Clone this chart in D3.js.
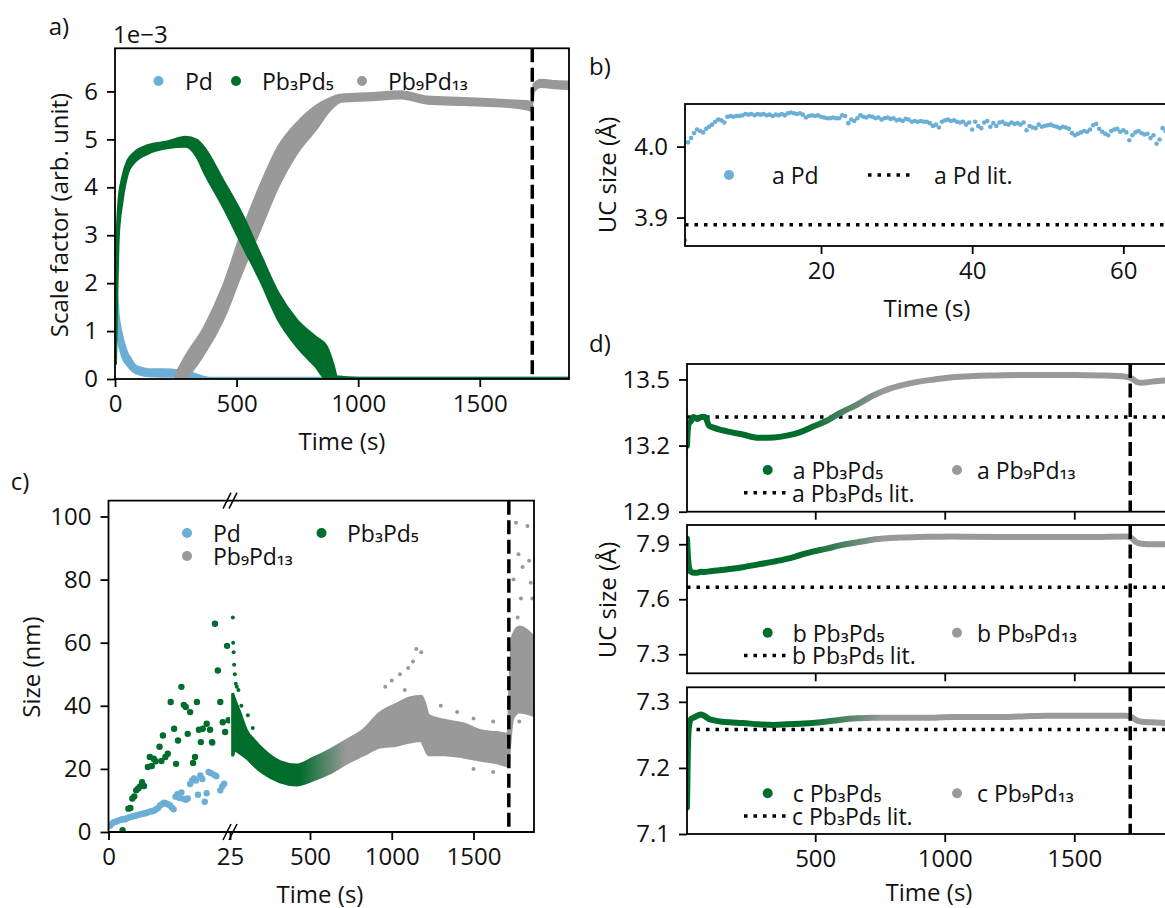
<!DOCTYPE html>
<html>
<head>
<meta charset="utf-8">
<script src="https://cdn.jsdelivr.net/npm/d3@7"></script>
<style>
  body { margin: 0; background: #fff; }
  svg { display: block; }
</style>
</head>
<body>
<svg id="fig" width="1165" height="908"></svg>
<script>
// ---- panel a: scale factor (x1e-3), dense clouds read as lower/upper envelopes
const aPdTime = [3, 8, 15, 25, 35, 50, 65, 80, 100, 140, 200, 260, 320, 360, 390, 1000, 1867];
const aPdLo   = [1.3, 1.0, 0.75, 0.55, 0.4, 0.3, 0.2, 0.14, 0.1, 0.06, 0.05, 0.05, 0.02, 0, 0, 0, 0];
const aPdHi   = [2.0, 1.75, 1.3, 1.0, 0.78, 0.55, 0.42, 0.3, 0.24, 0.2, 0.2, 0.18, 0.12, 0.05, 0.02, 0.02, 0.02];

const aP35Time = [3, 8, 15, 30, 53, 76, 137, 214, 290, 336, 368, 444, 520, 596, 672, 748, 825, 870, 900, 912, 1000, 1867];
const aP35Lo   = [0.3, 1.65, 3.0, 3.7, 4.3, 4.5, 4.71, 4.82, 4.85, 4.64, 4.3, 3.6, 2.83, 2.07, 1.23, 0.68, 0.26, 0, 0, 0, 0, 0];
const aP35Hi   = [2.2, 3.05, 3.7, 4.2, 4.57, 4.71, 4.88, 4.95, 5.05, 4.99, 4.82, 4.15, 3.46, 2.62, 1.79, 1.23, 0.88, 0.68, 0.26, 0.05, 0.02, 0.02];

const aP913Time = [250, 290, 368, 444, 520, 596, 672, 748, 825, 886, 932, 1055, 1177, 1284, 1436, 1588, 1700, 1712, 1722, 1752, 1813, 1870];
const aP913Lo   = [0, 0.05, 0.54, 1.23, 2.2, 3.11, 4.02, 4.71, 5.2, 5.62, 5.79, 5.82, 5.86, 5.75, 5.72, 5.69, 5.62, 5.6, 6.0, 6.1, 6.07, 6.05];
const aP913Hi   = [0.1, 0.47, 1.09, 1.93, 3.04, 4.02, 4.85, 5.34, 5.69, 5.86, 5.93, 5.96, 6.0, 5.89, 5.86, 5.82, 5.79, 5.74, 6.15, 6.24, 6.21, 6.2];

// ---- panel b: lattice parameter a of Pd (Angstrom)
const bTime = [2.0, 2.4, 2.8, 3.2, 3.6, 4.0, 4.4, 4.8, 5.2, 5.6, 6.0, 6.4, 6.8, 7.2, 7.6, 8.0, 8.4, 8.8, 9.2, 9.6,
  10.0, 10.4, 10.8, 11.2, 11.6, 12.0, 12.4, 12.8, 13.2, 13.6, 14.0, 14.4, 14.8, 15.2, 15.6, 16.0, 16.4, 16.8, 17.2, 17.6,
  18.0, 18.4, 18.8, 19.2, 19.6, 20.0, 20.4, 20.8, 21.2, 21.6, 22.0, 22.4, 22.8, 23.2, 23.6, 24.0, 24.4, 24.8, 25.2, 25.6,
  26.0, 26.4, 26.8, 27.2, 27.6, 28.0, 28.4, 28.8, 29.2, 29.6, 30.0, 30.4, 30.8, 31.2, 31.6, 32.0, 32.4, 32.8, 33.2, 33.6,
  34.0, 34.4, 34.8, 35.2, 35.6, 36.0, 36.4, 36.8, 37.2, 37.6, 38.0, 38.4, 38.8, 39.2, 39.6, 40.0, 40.4, 40.8, 41.2, 41.6,
  42.0, 42.4, 42.8, 43.2, 43.6, 44.0, 44.4, 44.8, 45.2, 45.6, 46.0, 46.4, 46.8, 47.2, 47.6, 48.0, 48.4, 48.8, 49.2, 49.6,
  50.0, 50.4, 50.8, 51.2, 51.6, 52.0, 52.4, 52.8, 53.2, 53.6, 54.0, 54.4, 54.8, 55.2, 55.6, 56.0, 56.4, 56.8, 57.2, 57.6,
  58.0, 58.4, 58.8, 59.2, 59.6, 60.0, 60.4, 60.8, 61.2, 61.6, 62.0, 62.4, 62.8, 63.2, 63.6, 64.0, 64.4, 64.8, 65.2, 65.6, 66.0];
const bSize = [3.868, 4.006, 4.012, 4.019, 4.024, 4.022, 4.020, 4.025, 4.028, 4.031, 4.035, 4.038, 4.037, 4.034, 4.042, 4.043, 4.042, 4.043, 4.043, 4.044,
  4.046, 4.045, 4.046, 4.044, 4.046, 4.045, 4.046, 4.044, 4.045, 4.043, 4.045, 4.044, 4.046, 4.044, 4.047, 4.048, 4.047, 4.046, 4.047, 4.045,
  4.041, 4.043, 4.044, 4.043, 4.044, 4.042, 4.041, 4.040, 4.040, 4.041, 4.040, 4.040, 4.044, 4.043, 4.033, 4.038, 4.036, 4.040, 4.044, 4.042,
  4.041, 4.043, 4.042, 4.040, 4.041, 4.038, 4.040, 4.041, 4.039, 4.040, 4.037, 4.038, 4.036, 4.039, 4.038, 4.035, 4.036, 4.035, 4.036, 4.035,
  4.035, 4.033, 4.029, 4.031, 4.027, 4.035, 4.037, 4.038, 4.036, 4.037, 4.035, 4.034, 4.035, 4.031, 4.034, 4.024, 4.035, 4.029, 4.026, 4.034,
  4.036, 4.028, 4.033, 4.029, 4.034, 4.035, 4.032, 4.031, 4.034, 4.032, 4.033, 4.031, 4.034, 4.023, 4.029, 4.027, 4.026, 4.031, 4.028, 4.029,
  4.030, 4.031, 4.029, 4.028, 4.026, 4.028, 4.027, 4.025, 4.019, 4.016, 4.018, 4.020, 4.022, 4.021, 4.024, 4.030, 4.032, 4.025, 4.021, 4.018,
  4.016, 4.022, 4.024, 4.025, 4.021, 4.023, 4.020, 4.009, 4.016, 4.020, 4.022, 4.019, 4.017, 4.018, 4.012, 4.016, 4.004, 4.010, 4.026, 4.022, 4.015];
const bLit = 3.89;

// ---- panel c: crystallite size (nm); first 25 s on a stretched axis
const cPdTime = [0.3, 0.6, 1.0, 1.4, 1.8, 2.2, 2.6, 3.0, 3.4, 3.8, 4.2, 4.6, 5.0, 5.4, 5.8, 6.2, 6.6, 7.0, 7.4, 7.8, 8.2, 8.6, 9.0, 9.4, 9.8,
  10.2, 10.6, 11.0, 11.4, 11.8, 12.2, 12.6, 13.0, 13.4, 13.8, 14.2, 14.6, 15.0, 15.4, 15.9, 16.3, 16.8, 17.2, 17.6, 18.0, 18.4,
  18.9, 19.3, 19.8, 20.2, 20.6, 21.1, 21.4, 21.8, 22.2, 23.0, 23.4, 23.8];
const cPdSize = [2.0, 2.5, 3.0, 3.2, 3.5, 3.7, 3.9, 4.1, 4.0, 4.4, 4.6, 4.8, 5.0, 5.1, 5.3, 5.5, 5.6, 5.8, 5.9, 6.0, 6.3, 6.5, 6.6, 6.8, 7.2,
  7.6, 8.4, 8.8, 9.3, 9.1, 8.8, 8.5, 7.8, 7.2, 11.2, 12.0, 10.8, 12.5, 10.5, 10.2, 10.6, 15.2, 16.3, 17.0, 16.3, 11.8,
  17.9, 16.8, 9.6, 12.3, 19.0, 18.6, 28.2, 18.1, 17.7, 13.2, 14.4, 15.3];
const cP35EarlyTime = [2.9, 4.1, 4.5, 4.9, 5.3, 5.7, 6.1, 6.5, 6.9, 7.3, 8.1, 8.5, 8.9, 9.3, 9.7, 10.5, 10.9, 11.2, 11.7, 12.2, 12.8, 13.5,
  13.9, 14.3, 15.0, 15.5, 15.9, 16.3, 16.8, 17.4, 17.8, 18.2, 18.6, 19.0, 19.4, 20.2, 20.9, 21.3, 21.9, 22.5, 23.0, 23.5, 24.0, 24.4, 24.7];
const cP35EarlySize = [0.6, 7.4, 7.6, 10.6, 11.3, 13.2, 13.8, 14.4, 15.8, 14.6, 20.6, 23.8, 20.9, 23.2, 22.4, 27.0, 22.5, 30.6, 23.8, 24.8, 41.2, 32.7,
  21.6, 29.0, 46.0, 40.3, 39.6, 31.1, 38.0, 21.9, 23.8, 41.2, 32.4, 28.5, 32.7, 34.3, 32.4, 28.5, 66.0, 51.2, 41.2, 34.8, 31.7, 59.0, 35.4];
// dense cloud after 25 s (Pb3Pd5 turning into Pb9Pd13), lower/upper envelope
const cTime = [27, 40, 70, 113, 160, 215, 316, 419, 520, 622, 724, 826, 928, 1030, 1110, 1180, 1200, 1225, 1322, 1436, 1549, 1640, 1712, 1722, 1740, 1780, 1866];
const cLo   = [24, 26, 25, 23.4, 21, 18.7, 15.9, 14.9, 16.5, 18.7, 21.8, 24.4, 26.9, 27.5, 28.5, 29, 27, 24.5, 24.5, 23.8, 22.7, 22, 21, 28, 36, 38, 37];
const cHi   = [44, 42, 38, 32, 29, 26, 22.3, 21.2, 23.4, 26, 29.1, 32.3, 37.7, 40.5, 42.5, 43, 41, 37, 35.4, 34.3, 32, 31.5, 31, 45, 62, 65, 62];
const cOutTime = [28, 30, 33, 36, 40, 46, 52, 62, 80, 120, 150, 960, 1000, 1050, 1080, 1100, 1130, 1150, 1180, 1300, 1400, 1500, 1620,
  1500, 1620, 1745, 1760, 1770, 1775, 1790, 1800, 1830, 1840, 1850, 1860, 1780, 1840];
const cOutSize = [68, 60, 57, 53, 50, 47, 46, 45, 40, 37, 33, 46, 48, 50, 45, 52, 54, 58, 57, 40, 38, 36, 35,
  20, 19, 80, 98, 68, 88, 74, 84, 97, 86, 79, 74, 35, 39];

// ---- panel d: lattice parameters a, b, c of Pb3Pd5 / Pb9Pd13 (Angstrom), centre of dense cloud
const dTime = [5, 8, 12, 20, 30, 45, 60, 75, 90, 110, 140, 170, 220, 280, 340, 390, 440, 490, 540, 600, 660, 720, 780, 840, 900,
  960, 1030, 1100, 1200, 1300, 1400, 1500, 1600, 1700, 1720, 1740, 1760, 1800, 1850, 1885];
const dA = [13.20, 13.27, 13.30, 13.31, 13.33, 13.32, 13.33, 13.33, 13.29, 13.28, 13.27, 13.262, 13.25, 13.235, 13.237, 13.245, 13.26, 13.285,
  13.31, 13.35, 13.385, 13.425, 13.455, 13.475, 13.49, 13.50, 13.51, 13.515, 13.518, 13.52, 13.52, 13.52, 13.518, 13.512, 13.505, 13.49,
  13.485, 13.49, 13.495, 13.495];
const dB = [7.93, 7.85, 7.78, 7.75, 7.745, 7.745, 7.75, 7.748, 7.752, 7.755, 7.76, 7.765, 7.775, 7.79, 7.805, 7.82, 7.84, 7.86, 7.875,
  7.895, 7.91, 7.925, 7.933, 7.937, 7.94, 7.941, 7.942, 7.941, 7.94, 7.939, 7.94, 7.939, 7.94, 7.942, 7.935, 7.91, 7.903, 7.9, 7.9, 7.902];
const dC = [7.14, 7.22, 7.26, 7.274, 7.276, 7.279, 7.281, 7.278, 7.274, 7.272, 7.27, 7.269, 7.268, 7.266, 7.265, 7.266, 7.267, 7.268, 7.27,
  7.273, 7.275, 7.276, 7.276, 7.276, 7.276, 7.276, 7.277, 7.277, 7.277, 7.278, 7.279, 7.279, 7.279, 7.279, 7.277, 7.272, 7.27, 7.269, 7.268, 7.268];
const dLit = [13.33, 7.665, 7.258];
const dLetters = ['a', 'b', 'c'];

const tDash = 1716;

// ---------------------------------------------------------------------------
const FONT = '"Open Sans","DejaVu Sans",sans-serif';
const fs = 24;
const cBlue = '#6baed6', cGreen = '#006d2c', cGrey = '#999999';
const ink = '#111';
const intFmt = d3.format('d');

const svg = d3.select('#fig');
svg.append('rect').attr('width', 1165).attr('height', 908).attr('fill', '#fff');
const defs = svg.append('defs');

function clip(id, x0, y0, x1, y1) {
  defs.append('clipPath').attr('id', id).append('rect')
    .attr('x', x0).attr('y', y0).attr('width', x1 - x0).attr('height', y1 - y0);
  return 'url(#' + id + ')';
}

function label(txt, x, y, opts) {
  opts = opts || {};
  const t = svg.append('text')
    .attr('x', x).attr('y', y)
    .attr('font-family', FONT).attr('font-size', opts.size || fs).attr('fill', ink)
    .attr('text-anchor', opts.anchor || 'middle')
    .attr('dominant-baseline', 'central');
  // unicode subscript digits are lifted a little so they sit near the baseline
  const parts = txt.split(/([\u2080-\u2089]+)/).filter(s => s.length);
  let lifted = false;
  parts.forEach(s => {
    const sub = /[\u2080-\u2089]/.test(s);
    const sp = t.append('tspan').text(s);
    if (sub && !lifted) { sp.attr('dy', -3); lifted = true; }
    else if (!sub && lifted) { sp.attr('dy', 3); lifted = false; }
  });
  if (opts.rotate) t.attr('transform', 'rotate(-90,' + x + ',' + y + ')');
  return t;
}

function styleAxis(g) {
  g.attr('font-family', FONT).attr('font-size', fs);
  g.select('.domain').remove();
  g.selectAll('.tick line').attr('stroke', '#000').attr('stroke-width', 1.8);
  g.selectAll('.tick text').attr('fill', ink);
}

function box(x0, y0, x1, y1) {
  svg.append('rect').attr('x', x0).attr('y', y0).attr('width', x1 - x0).attr('height', y1 - y0)
    .attr('fill', 'none').attr('stroke', '#000').attr('stroke-width', 1.8);
}

function dashed(x, y0, y1) {
  svg.append('line').attr('x1', x).attr('x2', x).attr('y1', y0).attr('y2', y1)
    .attr('stroke', '#000').attr('stroke-width', 3.5).attr('stroke-dasharray', '14,5.5');
}

function legDot(cx, cy, color, txt, tx) {
  svg.append('circle').attr('cx', cx).attr('cy', cy).attr('r', 5).attr('fill', color);
  label(txt, tx, cy, { anchor: 'start', size: 23 });
}

function legDots(x1, x2, cy, txt, tx) {
  svg.append('line').attr('x1', x1).attr('x2', x2).attr('y1', cy).attr('y2', cy)
    .attr('stroke', '#000').attr('stroke-width', 3.5).attr('stroke-dasharray', '3.5,6');
  label(txt, tx, cy, { anchor: 'start', size: 23 });
}

function rows(ts, lo, hi) {
  return ts.map((t, i) => ({ t: t, lo: lo[i], hi: hi[i] }));
}

// ======================= panel a =======================
{
  const x = d3.scaleLinear().domain([0, 1867]).range([115, 569]);
  const y = d3.scaleLinear().domain([0, 6.9]).range([379, 48.3]);
  const cp = clip('clipA', 115, 48.3, 569, 379);
  const g = svg.append('g').attr('clip-path', cp);
  const area = d3.area().x(d => x(d.t)).y0(d => y(d.lo)).y1(d => y(d.hi)).curve(d3.curveMonotoneX);

  g.append('path').datum(rows(aPdTime, aPdLo, aPdHi)).attr('d', area)
    .attr('fill', cBlue).attr('stroke', cBlue).attr('stroke-width', 2.5);
  g.append('path').datum(rows(aP913Time, aP913Lo, aP913Hi)).attr('d', area)
    .attr('fill', cGrey).attr('stroke', cGrey).attr('stroke-width', 2.5);
  g.append('path').datum(rows(aP35Time, aP35Lo, aP35Hi)).attr('d', area)
    .attr('fill', cGreen).attr('stroke', cGreen).attr('stroke-width', 2.5);

  dashed(x(tDash), 48.3, 379);
  box(115, 48.3, 569, 379);

  const gx = svg.append('g').attr('transform', 'translate(0,379)')
    .call(d3.axisBottom(x).tickValues([0, 500, 1000, 1500]).tickFormat(intFmt).tickSize(8).tickPadding(8).tickSizeOuter(0));
  styleAxis(gx);
  const gy = svg.append('g').attr('transform', 'translate(115,0)')
    .call(d3.axisLeft(y).tickValues([0, 1, 2, 3, 4, 5, 6]).tickFormat(intFmt).tickSize(8).tickPadding(9).tickSizeOuter(0));
  styleAxis(gy);

  label('1e\u22123', 113, 33, { anchor: 'start' });
  label('Time (s)', 342, 440);
  label('Scale factor (arb. unit)', 58, 215, { rotate: true });
  label('a)', 59, 25);

  legDot(158.5, 81, cBlue, 'Pd', 185);
  legDot(236, 81, cGreen, 'Pb\u2083Pd\u2085', 262);
  legDot(362, 81, cGrey, 'Pb\u2089Pd\u2081\u2083', 388);
}

// ======================= panel b =======================
{
  const x = d3.scaleLinear().domain([2.0, 67.5]).range([685, 1180]);
  const y = d3.scaleLinear().domain([3.86, 4.06]).range([246, 104]);
  const cp = clip('clipB', 685, 104, 1180, 246);
  const g = svg.append('g').attr('clip-path', cp);

  g.append('line').attr('x1', 685).attr('x2', 1180).attr('y1', y(bLit)).attr('y2', y(bLit))
    .attr('stroke', '#000').attr('stroke-width', 3.5).attr('stroke-dasharray', '3.5,6');
  g.selectAll('circle').data(bTime).join('circle')
    .attr('cx', d => x(d)).attr('cy', (d, i) => y(bSize[i])).attr('r', 2.3).attr('fill', cBlue);

  box(685, 104, 1180, 246);
  const gx = svg.append('g').attr('transform', 'translate(0,246)')
    .call(d3.axisBottom(x).tickValues([20, 40, 60]).tickFormat(intFmt).tickSize(8).tickPadding(8).tickSizeOuter(0));
  styleAxis(gx);
  const gy = svg.append('g').attr('transform', 'translate(685,0)')
    .call(d3.axisLeft(y).tickValues([3.9, 4.0]).tickFormat(d3.format('.1f')).tickSize(8).tickPadding(9).tickSizeOuter(0));
  styleAxis(gy);

  label('Time (s)', 927, 307);
  label('UC size (\u00c5)', 606, 175, { rotate: true });
  label('b)', 600, 65);

  legDot(729, 175, cBlue, 'a Pd', 772);
  legDots(868, 913, 175, 'a Pd lit.', 934);
}

// ======================= panel c =======================
{
  const L = 108.5, J = 230, R = 534, T = 500.7, B = 832;
  const xl = d3.scaleLinear().domain([0, 25]).range([L, J]);
  const xr = d3.scaleLinear().domain([10.7, 1870]).range([J, R]);
  const y = d3.scaleLinear().domain([0, 105]).range([B, T]);
  const mix = d3.scaleLinear().domain([440, 720]).range([cGreen, cGrey]).interpolate(d3.interpolateRgb).clamp(true);

  const grad = defs.append('linearGradient').attr('id', 'gradC').attr('gradientUnits', 'userSpaceOnUse')
    .attr('x1', xr(440)).attr('x2', xr(720)).attr('y1', 0).attr('y2', 0);
  grad.append('stop').attr('offset', 0).attr('stop-color', cGreen);
  grad.append('stop').attr('offset', 1).attr('stop-color', cGrey);

  const gl = svg.append('g').attr('clip-path', clip('clipCL', L, T, J, B));
  const gr = svg.append('g').attr('clip-path', clip('clipCR', J, T, R, B));

  gl.selectAll('circle.pd').data(cPdTime).join('circle').attr('class', 'pd')
    .attr('cx', d => xl(d)).attr('cy', (d, i) => y(cPdSize[i])).attr('r', 3.2).attr('fill', cBlue);
  gl.selectAll('circle.p35').data(cP35EarlyTime).join('circle').attr('class', 'p35')
    .attr('cx', d => xl(d)).attr('cy', (d, i) => y(cP35EarlySize[i])).attr('r', 3.2).attr('fill', cGreen);

  const area = d3.area().x(d => xr(d.t)).y0(d => y(d.lo)).y1(d => y(d.hi)).curve(d3.curveMonotoneX);
  gr.append('path').datum(rows(cTime, cLo, cHi)).attr('d', area)
    .attr('fill', 'url(#gradC)').attr('stroke', 'url(#gradC)').attr('stroke-width', 3);
  gr.selectAll('circle').data(cOutTime).join('circle')
    .attr('cx', d => xr(d)).attr('cy', (d, i) => y(cOutSize[i])).attr('r', 2).attr('fill', d => mix(d));

  dashed(xr(tDash), T, B);

  svg.append('path')
    .attr('d', `M${J - 6},${T}H${L}V${B}H${J - 6}M${J + 6},${T}H${R}V${B}H${J + 6}`)
    .attr('fill', 'none').attr('stroke', '#000').attr('stroke-width', 1.8);
  svg.append('path')
    .attr('d', `M${J - 6},${T}H${J + 6}M${J - 6},${B}H${J + 6}`)
    .attr('stroke', '#000').attr('stroke-width', 1.8);
  [T, B].forEach(yy => {
    [-3, 3].forEach(dx => {
      svg.append('line').attr('x1', J + dx - 4).attr('x2', J + dx + 4).attr('y1', yy + 8).attr('y2', yy - 8)
        .attr('stroke', '#000').attr('stroke-width', 1.5);
    });
  });

  const gx1 = svg.append('g').attr('transform', `translate(0,${B})`)
    .call(d3.axisBottom(xl).tickValues([0, 25]).tickFormat(intFmt).tickSize(8).tickPadding(8).tickSizeOuter(0));
  styleAxis(gx1);
  const gx2 = svg.append('g').attr('transform', `translate(0,${B})`)
    .call(d3.axisBottom(xr).tickValues([500, 1000, 1500]).tickFormat(intFmt).tickSize(8).tickPadding(8).tickSizeOuter(0));
  styleAxis(gx2);
  const gy = svg.append('g').attr('transform', `translate(${L},0)`)
    .call(d3.axisLeft(y).tickValues([0, 20, 40, 60, 80, 100]).tickFormat(intFmt).tickSize(8).tickPadding(9).tickSizeOuter(0));
  styleAxis(gy);

  label('Time (s)', 320, 893);
  label('Size (nm)', 30, 667, { rotate: true });
  label('c)', 20, 480);

  legDot(187, 533, cBlue, 'Pd', 213);
  legDot(321.5, 533, cGreen, 'Pb\u2083Pd\u2085', 347);
  legDot(187, 556, cGrey, 'Pb\u2089Pd\u2081\u2083', 213);
}

// ======================= panel d =======================
{
  const x = d3.scaleLinear().domain([5, 1885]).range([687, 1174]);
  const L = 687, R = 1180;
  const grad = defs.append('linearGradient').attr('id', 'gradD').attr('gradientUnits', 'userSpaceOnUse')
    .attr('x1', x(470)).attr('x2', x(760)).attr('y1', 0).attr('y2', 0);
  grad.append('stop').attr('offset', 0).attr('stop-color', cGreen);
  grad.append('stop').attr('offset', 1).attr('stop-color', cGrey);

  const panels = [
    { vals: dA, dom: [12.9, 13.57], top: 364, bot: 511.7, ticks: [12.9, 13.2, 13.5], leg: 470 },
    { vals: dB, dom: [7.196, 8.005], top: 525, bot: 673.3, ticks: [7.3, 7.6, 7.9], leg: 632.7 },
    { vals: dC, dom: [7.1, 7.322], top: 687.3, bot: 834, ticks: [7.1, 7.2, 7.3], leg: 793.3 }
  ];

  panels.forEach((p, k) => {
    const y = d3.scaleLinear().domain(p.dom).range([p.bot, p.top]);
    const g = svg.append('g').attr('clip-path', clip('clipD' + k, L, p.top, R, p.bot));
    g.append('line').attr('x1', L).attr('x2', R).attr('y1', y(dLit[k])).attr('y2', y(dLit[k]))
      .attr('stroke', '#000').attr('stroke-width', 3.5).attr('stroke-dasharray', '3.5,6');
    const line = d3.line().x(d => x(d)).y((d, i) => y(p.vals[i])).curve(d3.curveMonotoneX);
    g.append('path').datum(dTime).attr('d', line)
      .attr('fill', 'none').attr('stroke', 'url(#gradD)').attr('stroke-width', 6)
      .attr('stroke-linecap', 'round').attr('stroke-linejoin', 'round');

    dashed(x(tDash), p.top, p.bot);
    box(L, p.top, R, p.bot);

    const gx = svg.append('g').attr('transform', `translate(0,${p.bot})`)
      .call(d3.axisBottom(x).tickValues([500, 1000, 1500]).tickSize(8).tickPadding(8).tickSizeOuter(0)
        .tickFormat(k === 2 ? intFmt : () => ''));
    styleAxis(gx);
    const gy = svg.append('g').attr('transform', `translate(${L},0)`)
      .call(d3.axisLeft(y).tickValues(p.ticks).tickFormat(d3.format('.1f')).tickSize(8).tickPadding(9).tickSizeOuter(0));
    styleAxis(gy);

    const ch = dLetters[k];
    legDot(767.7, p.leg, cGreen, ch + ' Pb\u2083Pd\u2085', 792.7);
    legDot(957, p.leg, cGrey, ch + ' Pb\u2089Pd\u2081\u2083', 977);
    legDots(744, 791, p.leg + 22.7, ch + ' Pb\u2083Pd\u2085 lit.', 792);
  });

  label('Time (s)', 929, 891);
  label('UC size (\u00c5)', 606, 600, { rotate: true });
  label('d)', 600, 342);
}
</script>
</body>
</html>
